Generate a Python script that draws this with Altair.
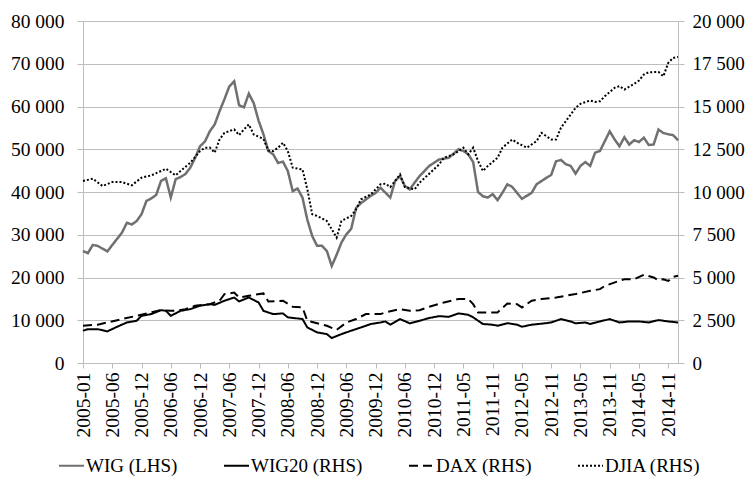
import altair as alt
import pandas as pd

# ---- data (month index 0 = 2005-01) ----
x_labels = ["2005-01", "2005-06", "2005-12", "2006-06", "2006-12", "2007-06", "2007-12",
            "2008-06", "2008-12", "2009-06", "2009-12", "2010-06", "2010-12", "2011-05",
            "2011-11", "2012-05", "2012-11", "2013-05", "2013-11", "2014-05", "2014-11"]

wig_idx = [0, 1, 2, 3, 5, 6, 8, 9, 10, 11, 12, 13, 14, 15, 16, 17, 18, 19, 20, 21, 22, 23, 24,
           25, 26, 27, 28, 29, 30, 31, 32, 33, 34, 35, 36, 37, 38, 39, 40, 41, 42, 43, 44, 45,
           46, 47, 48, 49, 50, 51, 52, 53, 54, 55, 56, 57, 59, 60, 61, 63, 64, 65, 66, 67, 68,
           69, 71, 73, 75, 77, 78, 79, 80, 81, 82, 83, 84, 85, 86, 87, 88, 89, 90, 92, 93, 95,
           96, 97, 98, 99, 100, 101, 102, 103, 104, 105, 106, 107, 108, 109, 110, 111, 112,
           113, 114, 115, 116, 117, 118, 119, 120, 121, 122]
wig_val = [26200, 25700, 27600, 27400, 26100, 27600, 30500, 32800, 32400, 33200, 34800, 37900,
           38500, 39300, 42600, 43200, 38700, 43000, 43500, 44200, 45700, 48000, 50700, 51800,
           54200, 55800, 58900, 61700, 64700, 65900, 60300, 59800, 63000, 60800, 56700, 53500,
           49600, 48800, 46800, 47100, 44900, 40200, 40800, 38700, 33500, 29700, 27400, 27400,
           26200, 22700, 25300, 28200, 30100, 31400, 36300, 37400, 39100, 39800, 41000, 38700,
           42600, 43700, 41400, 40600, 42200, 43700, 46100, 47600, 48000, 50000, 49600, 48800,
           47000, 40000, 39000, 38700, 39500, 38100, 39800, 41800, 41200, 39800, 38400, 39800,
           41800, 43300, 44000, 47200, 47500, 46500, 46100, 44300, 46100, 47000, 46100, 49200,
           49600, 51900, 54200, 52300, 50700, 52800, 51100, 52100, 51700, 52700, 51000, 51100,
           54600, 53800, 53500, 53300, 52100]

wig20_idx = [0, 1, 3, 5, 7, 9, 11, 12, 14, 16, 17, 18, 20, 22, 24, 26, 27, 29, 31, 32, 34, 36,
             37, 39, 41, 42, 45, 46, 48, 50, 51, 53, 55, 57, 59, 61, 62, 63, 65, 67, 69, 71, 73,
             75, 77, 79, 80, 82, 84, 85, 87, 89, 90, 92, 95, 96, 98, 100, 101, 103, 104, 106,
             108, 110, 112, 114, 116, 118, 120, 122]
wig20_val = [1890, 1980, 1980, 1850, 2120, 2370, 2470, 2760, 2860, 3090, 3050, 2760, 3050, 3150,
             3350, 3440, 3400, 3640, 3830, 3600, 3830, 3540, 3050, 2860, 2900, 2670, 2570, 2080,
             1790, 1690, 1460, 1690, 1890, 2080, 2280, 2370, 2430, 2240, 2570, 2320, 2470, 2630,
             2740, 2700, 2900, 2820, 2670, 2280, 2240, 2180, 2330, 2240, 2120, 2240, 2330, 2370,
             2570, 2430, 2320, 2370, 2280, 2430, 2570, 2370, 2430, 2430, 2370, 2510, 2430, 2370]

dax_idx = [0, 3, 5, 8, 11, 14, 16, 18, 19, 21, 23, 26, 28, 29, 31, 32, 34, 37, 38, 41, 43, 45,
           46, 48, 50, 52, 54, 56, 58, 61, 62, 65, 67, 69, 71, 74, 77, 79, 80, 81, 83, 85, 87,
           89, 90, 92, 94, 97, 99, 101, 104, 106, 107, 110, 111, 113, 115, 117, 118, 119, 120,
           121, 122]
dax_val = [2180, 2240, 2370, 2570, 2760, 2960, 3090, 3050, 3050, 3150, 3350, 3440, 3640, 4030,
           4120, 3830, 3930, 4070, 3600, 3640, 3290, 3250, 2470, 2320, 2180, 1930, 2370, 2570,
           2860, 2860, 2960, 3150, 3050, 3090, 3290, 3540, 3740, 3740, 3440, 2960, 2960, 2960,
           3480, 3440, 3250, 3640, 3740, 3830, 3930, 4030, 4220, 4320, 4510, 4810, 4900, 4900,
           5160, 5000, 4840, 4900, 4800, 5040, 5100]

djia_idx = [0, 2, 4, 6, 8, 10, 12, 14, 16, 17, 19, 20, 22, 24, 25, 26, 27, 28, 29, 31, 32, 33,
            34, 35, 37, 38, 39, 40, 41, 42, 43, 45, 46, 47, 48, 50, 52, 53, 55, 56, 57, 59, 61,
            62, 63, 64, 65, 66, 68, 69, 71, 73, 74, 76, 77, 78, 79, 80, 81, 82, 83, 85, 86, 88,
            89, 91, 93, 94, 96, 97, 98, 100, 101, 102, 104, 105, 106, 107, 109, 110, 111, 113,
            114, 115, 116, 118, 119, 120, 121, 122]
djia_val = [10640, 10780, 10350, 10580, 10580, 10390, 10840, 10970, 11230, 11360, 10970, 11230,
            11710, 12390, 12590, 12600, 12300, 13070, 13460, 13660, 13330, 13660, 13950, 13370,
            13100, 12430, 12390, 12590, 12880, 12390, 11420, 11320, 10160, 8700, 8600, 8310,
            7330, 8310, 8600, 8990, 9570, 9860, 10450, 10490, 10290, 10640, 11030, 10290, 10160,
            10540, 11070, 11610, 12000, 12200, 12390, 12590, 12200, 12590, 11810, 11230, 11520,
            12000, 12590, 13070, 12880, 12590, 12970, 13460, 13070, 13070, 13760, 14530, 14920,
            15160, 15350, 15270, 15310, 15600, 16090, 16190, 15990, 16320, 16520, 16870, 17000,
            17020, 16770, 17550, 17840, 17900]

names = ["WIG (LHS)", "WIG20 (RHS)", "DAX (RHS)", "DJIA (RHS)"]
colors = ["#707070", "#000000", "#000000", "#000000"]
dashes = [[1, 0], [1, 0], [9, 5], [2, 2]]

rows_left = [{"i": i, "v": v, "s": names[0]} for i, v in zip(wig_idx, wig_val)]
rows_right = []
for nm, ix, vals in [(names[1], wig20_idx, wig20_val), (names[2], dax_idx, dax_val),
                     (names[3], djia_idx, djia_val)]:
    rows_right += [{"i": i, "v": v, "s": nm} for i, v in zip(ix, vals)]
df_left = pd.DataFrame(rows_left)
df_right = pd.DataFrame(rows_right)

FONT = "'Liberation Serif', 'Times New Roman', Times, serif"
GRID = "#bdbdbd"
FS = 19.5

label_arr = "[" + ",".join("'" + l + "'" for l in x_labels) + "]"
x_enc = alt.X("i:Q",
              scale=alt.Scale(domain=[0, 122], nice=False, zero=False),
              axis=alt.Axis(values=list(range(0, 121, 6)),
                            labelExpr=label_arr + "[round(datum.value/6)]",
                            labelAngle=-90, grid=False, title=None,
                            tickSize=5, labelPadding=4, domainColor=GRID, tickColor=GRID,
                            labelFont=FONT, labelFontSize=FS, labelColor="black"))

legend = alt.Legend(title=None, orient="none", legendX=-25, legendY=431,
                    direction="horizontal", symbolType="stroke", symbolSize=625,
                    symbolStrokeWidth=2, labelFont=FONT, labelFontSize=19,
                    labelColor="black", columnPadding=42, labelOffset=1)
color_enc = alt.Color("s:N", scale=alt.Scale(domain=names, range=colors), legend=legend)
dash_enc = alt.StrokeDash("s:N", scale=alt.Scale(domain=names, range=dashes), legend=legend)

fmt = "replace(format(datum.value, ','), ',', ' ')"

left = alt.Chart(df_left).mark_line(strokeWidth=2.5).encode(
    x=x_enc,
    y=alt.Y("v:Q", scale=alt.Scale(domain=[0, 80000], nice=False),
            axis=alt.Axis(orient="left", values=list(range(0, 80001, 10000)), labelExpr=fmt,
                          grid=True, gridColor=GRID, domainColor=GRID, tickColor=GRID,
                          tickSize=6, labelPadding=13, title=None,
                          labelFont=FONT, labelFontSize=FS, labelColor="black")),
    color=color_enc, strokeDash=dash_enc,
)

right = alt.Chart(df_right).mark_line(strokeWidth=2).encode(
    x=x_enc,
    y=alt.Y("v:Q", scale=alt.Scale(domain=[0, 20000], nice=False),
            axis=alt.Axis(orient="right", values=list(range(0, 20001, 2500)), labelExpr=fmt,
                          grid=False, domainColor=GRID, tickColor=GRID,
                          tickSize=6, labelPadding=8, title=None,
                          labelFont=FONT, labelFontSize=19, labelColor="black")),
    color=color_enc, strokeDash=dash_enc,
)

chart = alt.layer(left, right).resolve_scale(y="independent").properties(
    width=595, height=342,
    autosize=alt.AutoSizeParams(type="none"),
    padding={"left": 75, "top": 13, "right": 67, "bottom": 113},
).configure_view(stroke=None).configure(background="white")

chart.save("out.html", embed_options={"renderer": "svg", "actions": False})
